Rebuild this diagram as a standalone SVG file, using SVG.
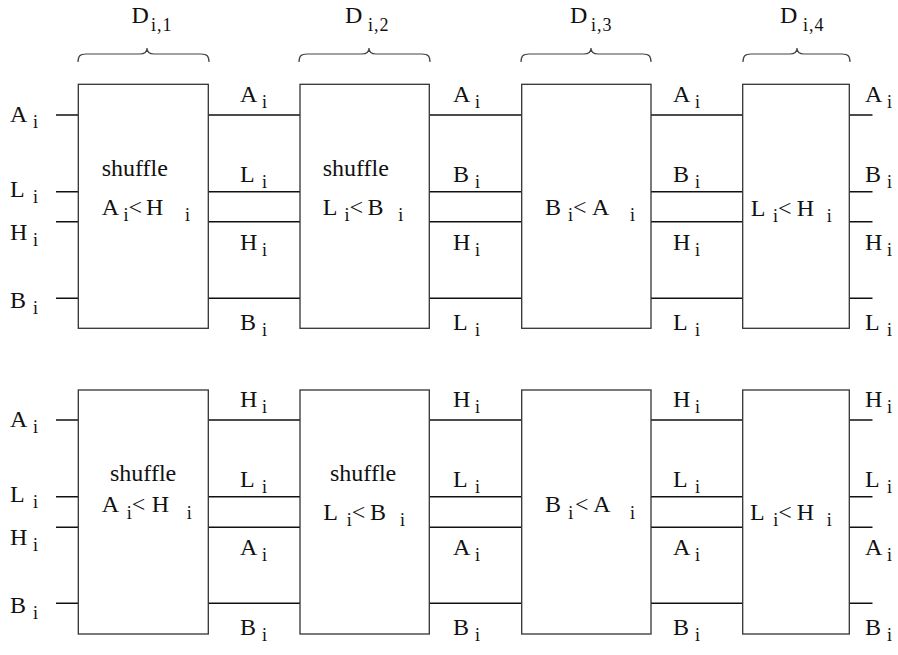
<svg xmlns="http://www.w3.org/2000/svg" width="898" height="655" viewBox="0 0 898 655" font-family="'Liberation Serif', 'Times New Roman', serif">
  <style>
    .box { fill: #fff; stroke: #333; stroke-width: 1.3; }
    .wire { stroke: #111; stroke-width: 1.5; fill: none; }
    .brace { stroke: #444; stroke-width: 1.2; fill: none; }
    text { font-family: "Liberation Serif", "Times New Roman", serif; font-size: 24px; fill: #111; }
    .s { font-size: 18px; }
    .ds { font-size: 18px; letter-spacing: 1px; }
  </style>

  <!-- stage labels with braces -->
  <g id="stages">
    <path class="brace" d="M78,62 C78,56 80,54 86,54 L140,54 C144,54 147,52 147,48 C147,52 150,54 154,54 L201,54 C207,54 209,56 209,62"/>
    <path class="brace" d="M299,62 C299,56 301,54 307,54 L362,54 C366,54 369,52 369,48 C369,52 372,54 376,54 L422,54 C428,54 430,56 430,62"/>
    <path class="brace" d="M521,62 C521,56 523,54 529,54 L584,54 C588,54 591,52 591,48 C591,52 594,54 598,54 L643,54 C649,54 651,56 651,62"/>
    <path class="brace" d="M743,62 C743,56 745,54 751,54 L790,54 C794,54 797,52 797,48 C797,52 800,54 804,54 L842,54 C848,54 850,56 850,62"/>
    <text x="131.5" y="23">D</text><text class="ds" x="151" y="31">i,1</text>
    <text x="345" y="23">D</text><text class="ds" x="368" y="31">i,2</text>
    <text x="570" y="23">D</text><text class="ds" x="591" y="31">i,3</text>
    <text x="780" y="23">D</text><text class="ds" x="803" y="31">i,4</text>
  </g>

  <!-- connectors: signal lines between stages -->
  <g id="connectors">
    <path class="wire" d="M56,115H78M56,191.7H78M56,221.7H78M56,298.3H78"/>
    <path class="wire" d="M208.3,115H300M208.3,191.7H300M208.3,221.7H300M208.3,298.3H300"/>
    <path class="wire" d="M429.3,115H521.7M429.3,191.7H521.7M429.3,221.7H521.7M429.3,298.3H521.7"/>
    <path class="wire" d="M651,115H742.7M651,191.7H742.7M651,221.7H742.7M651,298.3H742.7"/>
    <path class="wire" d="M849.3,115H872.5M849.3,191.7H872.5M849.3,221.7H872.5M849.3,298.3H872.5"/>

    <path class="wire" d="M56,420H78M56,496.7H78M56,527.3H78M56,603.3H78"/>
    <path class="wire" d="M208.3,420H300M208.3,496.7H300M208.3,527.3H300M208.3,603.3H300"/>
    <path class="wire" d="M429.3,420H521.7M429.3,496.7H521.7M429.3,527.3H521.7M429.3,603.3H521.7"/>
    <path class="wire" d="M651,420H742.7M651,496.7H742.7M651,527.3H742.7M651,603.3H742.7"/>
    <path class="wire" d="M849.3,420H872.5M849.3,496.7H872.5M849.3,527.3H872.5M849.3,603.3H872.5"/>
  </g>

  <!-- line labels, upper network -->
  <g id="labels-top">
    <text x="10" y="122">A</text><text class="s" x="33" y="128">i</text>
    <text x="10" y="197">L</text><text class="s" x="33" y="203">i</text>
    <text x="10" y="240">H</text><text class="s" x="33" y="246">i</text>
    <text x="10" y="308">B</text><text class="s" x="33" y="314">i</text>

    <text x="240" y="102">A</text><text class="s" x="262" y="108">i</text>
    <text x="240" y="182">L</text><text class="s" x="262" y="188">i</text>
    <text x="240" y="250">H</text><text class="s" x="262" y="256">i</text>
    <text x="240" y="330">B</text><text class="s" x="262" y="336">i</text>

    <text x="453" y="102">A</text><text class="s" x="475" y="108">i</text>
    <text x="453" y="182">B</text><text class="s" x="475" y="188">i</text>
    <text x="453" y="250">H</text><text class="s" x="475" y="256">i</text>
    <text x="453" y="330">L</text><text class="s" x="475" y="336">i</text>

    <text x="673" y="102">A</text><text class="s" x="695" y="108">i</text>
    <text x="673" y="182">B</text><text class="s" x="695" y="188">i</text>
    <text x="673" y="250">H</text><text class="s" x="695" y="256">i</text>
    <text x="673" y="330">L</text><text class="s" x="695" y="336">i</text>

    <text x="865" y="102">A</text><text class="s" x="887" y="108">i</text>
    <text x="865" y="182">B</text><text class="s" x="887" y="188">i</text>
    <text x="865" y="250">H</text><text class="s" x="887" y="256">i</text>
    <text x="865" y="330">L</text><text class="s" x="887" y="336">i</text>
  </g>

  <!-- line labels, lower network -->
  <g id="labels-bottom">
    <text x="10" y="427">A</text><text class="s" x="33" y="433">i</text>
    <text x="10" y="502">L</text><text class="s" x="33" y="508">i</text>
    <text x="10" y="545">H</text><text class="s" x="33" y="551">i</text>
    <text x="10" y="613">B</text><text class="s" x="33" y="619">i</text>

    <text x="240" y="407">H</text><text class="s" x="262" y="413">i</text>
    <text x="240" y="487">L</text><text class="s" x="262" y="493">i</text>
    <text x="240" y="555">A</text><text class="s" x="262" y="561">i</text>
    <text x="240" y="635">B</text><text class="s" x="262" y="641">i</text>

    <text x="453" y="407">H</text><text class="s" x="475" y="413">i</text>
    <text x="453" y="487">L</text><text class="s" x="475" y="493">i</text>
    <text x="453" y="555">A</text><text class="s" x="475" y="561">i</text>
    <text x="453" y="635">B</text><text class="s" x="475" y="641">i</text>

    <text x="673" y="407">H</text><text class="s" x="695" y="413">i</text>
    <text x="673" y="487">L</text><text class="s" x="695" y="493">i</text>
    <text x="673" y="555">A</text><text class="s" x="695" y="561">i</text>
    <text x="673" y="635">B</text><text class="s" x="695" y="641">i</text>

    <text x="865" y="407">H</text><text class="s" x="887" y="413">i</text>
    <text x="865" y="487">L</text><text class="s" x="887" y="493">i</text>
    <text x="865" y="555">A</text><text class="s" x="887" y="561">i</text>
    <text x="865" y="635">B</text><text class="s" x="887" y="641">i</text>
  </g>

  <!-- upper network stages -->
  <g id="top-d1">
    <rect class="box" x="78.3" y="84.3" width="130" height="244"/>
    <text x="101.7" y="176">shuffle</text>
    <text x="101.7" y="215">A</text><text class="s" x="123.5" y="221">i</text>
    <text x="128.5" y="215">&lt;</text><text x="146" y="215">H</text><text class="s" x="185" y="221">i</text>
  </g>
  <g id="top-d2">
    <rect class="box" x="300" y="84.3" width="129.3" height="244"/>
    <text x="322.7" y="176">shuffle</text>
    <text x="322.7" y="215">L</text><text class="s" x="344.5" y="221">i</text>
    <text x="349.5" y="215">&lt;</text><text x="367.5" y="215">B</text><text class="s" x="398.3" y="221">i</text>
  </g>
  <g id="top-d3">
    <rect class="box" x="521.7" y="84.3" width="129.3" height="244"/>
    <text x="545" y="215">B</text><text class="s" x="568" y="221">i</text>
    <text x="573" y="215">&lt;</text><text x="592" y="215">A</text><text class="s" x="630" y="221">i</text>
  </g>
  <g id="top-d4">
    <rect class="box" x="742.7" y="84.3" width="106.6" height="244"/>
    <text x="750.7" y="216">L</text><text class="s" x="773" y="222">i</text>
    <text x="778" y="216">&lt;</text><text x="796.7" y="216">H</text><text class="s" x="826.7" y="222">i</text>
  </g>

  <!-- lower network stages -->
  <g id="bottom-d1">
    <rect class="box" x="78.3" y="390" width="130" height="244"/>
    <text x="110" y="481">shuffle</text>
    <text x="101.7" y="512">A</text><text class="s" x="126.7" y="519">i</text>
    <text x="131.7" y="512">&lt;</text><text x="151.7" y="512">H</text><text class="s" x="186.7" y="519">i</text>
  </g>
  <g id="bottom-d2">
    <rect class="box" x="300" y="390" width="129.3" height="244"/>
    <text x="330" y="481">shuffle</text>
    <text x="323.3" y="520">L</text><text class="s" x="346.7" y="526">i</text>
    <text x="351.7" y="520">&lt;</text><text x="370" y="520">B</text><text class="s" x="400" y="526">i</text>
  </g>
  <g id="bottom-d3">
    <rect class="box" x="521.7" y="390" width="129.3" height="244"/>
    <text x="545" y="512">B</text><text class="s" x="568.3" y="519">i</text>
    <text x="575" y="512">&lt;</text><text x="593.3" y="512">A</text><text class="s" x="630" y="519">i</text>
  </g>
  <g id="bottom-d4">
    <rect class="box" x="742.7" y="390" width="106.6" height="244"/>
    <text x="750" y="520">L</text><text class="s" x="773.3" y="526">i</text>
    <text x="778.3" y="520">&lt;</text><text x="796.7" y="520">H</text><text class="s" x="826.7" y="526">i</text>
  </g>
</svg>
